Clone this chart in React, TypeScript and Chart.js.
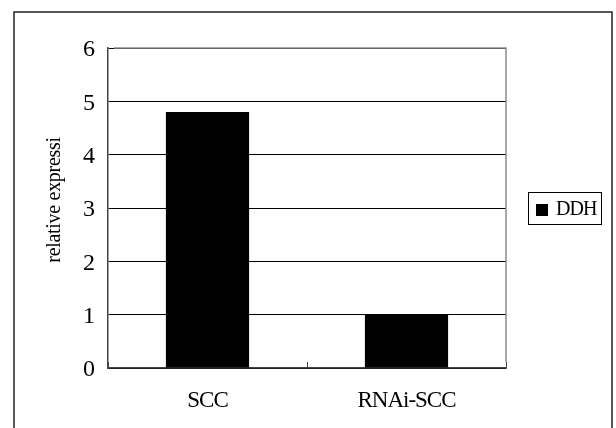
import { useEffect, useRef } from "react";
import { Chart, registerables } from "chart.js";

Chart.register(...registerables);

// Chart data
const categories = ["SCC", "RNAi-SCC"];
const seriesName = "DDH";
const ddhValues = [4.8, 1.0];
const yMin = 0;
const yMax = 6;
const yStep = 1;
const yTitle = "relative expressi";

const FONT = "'Liberation Serif', 'Times New Roman', serif";

// Tight letter spacing for all canvas text
const spacingPlugin = {
  id: "spacing",
  beforeDraw(chart: any) {
    (chart.ctx as any).letterSpacing = "-1px";
  },
};

// Outer frame, grey plot-area frame, axis title and a boxed legend on the right
const decorPlugin = {
  id: "decor",
  afterDraw(chart: any) {
    const { ctx, chartArea } = chart;
    const { top, right, bottom } = chartArea;
    ctx.save();

    // grey top and right edges of the plot area
    ctx.strokeStyle = "#8c8c8c";
    ctx.lineWidth = 1.5;
    ctx.beginPath();
    ctx.moveTo(chartArea.left + 6, top);
    ctx.lineTo(right, top);
    ctx.lineTo(right, bottom - 6);
    ctx.stroke();

    // outer chart frame (bottom edge runs past the canvas)
    ctx.strokeStyle = "#222";
    ctx.lineWidth = 1.5;
    ctx.beginPath();
    ctx.moveTo(14, chart.height + 4);
    ctx.lineTo(14, 12);
    ctx.lineTo(612, 12);
    ctx.lineTo(612, chart.height + 4);
    ctx.stroke();

    // rotated y-axis title
    ctx.save();
    ctx.translate(55, 200);
    ctx.rotate(-Math.PI / 2);
    (ctx as any).letterSpacing = "-0.3px";
    ctx.fillStyle = "#000";
    ctx.font = `20px ${FONT}`;
    ctx.textAlign = "center";
    ctx.textBaseline = "middle";
    ctx.fillText(yTitle, 0, 0);
    ctx.restore();

    // legend
    const ds = chart.data.datasets[0];
    const bx = 528.5, by = 192.5, bw = 73, bh = 32;
    ctx.strokeStyle = "#000";
    ctx.lineWidth = 1;
    ctx.strokeRect(bx, by, bw, bh);
    ctx.fillStyle = ds.backgroundColor as string;
    ctx.fillRect(536, 204, 12, 12);
    ctx.fillStyle = "#000";
    (ctx as any).letterSpacing = "-1px";
    ctx.font = `20px ${FONT}`;
    ctx.textBaseline = "middle";
    ctx.textAlign = "left";
    ctx.fillText(ds.label, 556, 210);

    ctx.restore();
  },
};

export default function App() {
  const canvasRef = useRef<HTMLCanvasElement>(null);

  useEffect(() => {
    const canvas = canvasRef.current;
    if (!canvas) return;
    const chart = new Chart(canvas, {
      type: "bar",
      data: {
        labels: categories,
        datasets: [
          {
            label: seriesName,
            data: ddhValues,
            backgroundColor: "#000000",
            borderWidth: 0,
            barPercentage: 0.418,
            categoryPercentage: 1,
          },
        ],
      },
      options: {
        responsive: false,
        animation: false,
        devicePixelRatio: 1,
        layout: { padding: { left: 14, top: 48, right: 110, bottom: 0 } },
        plugins: {
          legend: { display: false },
          tooltip: { enabled: false },
        },
        scales: {
          x: {
            afterFit: (scale: any) => {
              scale.height = 60;
            },
            grid: {
              offset: true,
              drawOnChartArea: false,
              drawTicks: true,
              tickLength: -6,
              color: "#444",
              lineWidth: 1,
            },
            border: { display: true, color: "#444", width: 1.5 },
            ticks: {
              color: "#000",
              padding: 25,
              font: { family: FONT, size: 23 },
              maxRotation: 0,
            },
          },
          y: {
            min: yMin,
            max: yMax,
            afterFit: (scale: any) => {
              scale.width = 94;
            },
            grid: {
              drawTicks: false,
              color: "#000",
              lineWidth: 1,
            },
            border: { display: true, color: "#444", width: 1.5 },
            ticks: {
              stepSize: yStep,
              color: "#000",
              padding: 14,
              labelOffset: 2,
              font: { family: FONT, size: 24 },
            },
            title: { display: false },
          },
        },
      },
      plugins: [spacingPlugin, decorPlugin],
    });
    return () => chart.destroy();
  }, []);

  return (
    <div style={{ position: "absolute", left: 0, top: 0, width: 616, height: 428, background: "#fff" }}>
      <canvas ref={canvasRef} width={616} height={428} style={{ display: "block" }} />
    </div>
  );
}
